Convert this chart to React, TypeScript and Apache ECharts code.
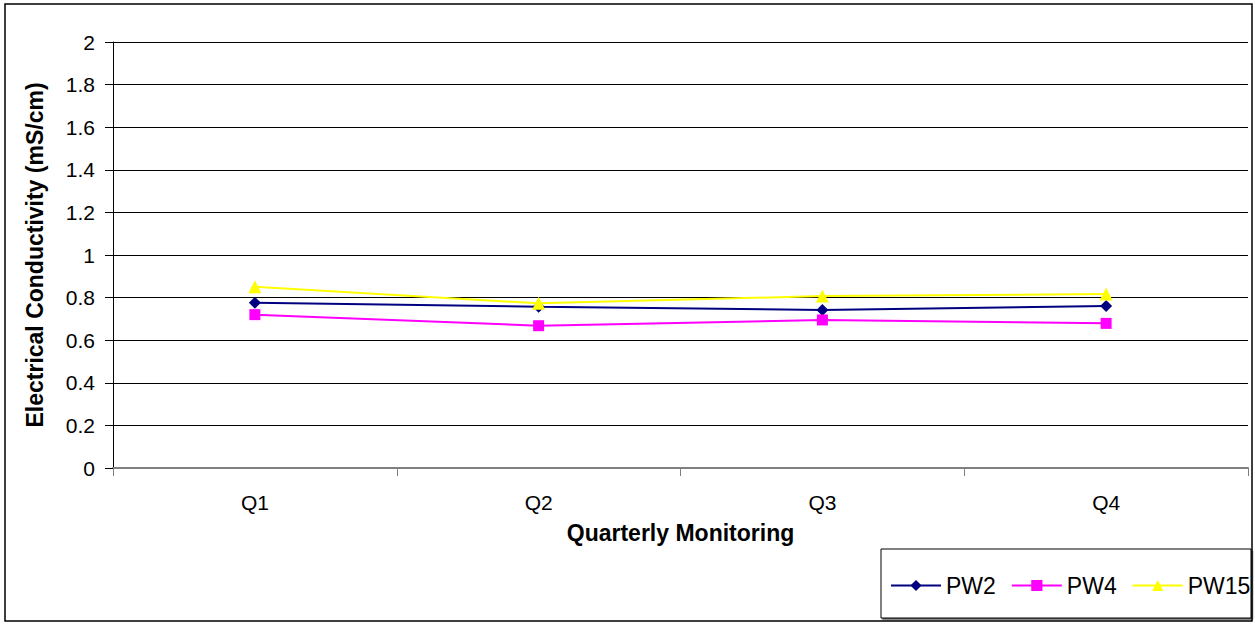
import React, { useEffect, useRef } from "react";
import * as echarts from "echarts";

const categories = ["Q1", "Q2", "Q3", "Q4"];
const pw2 = [0.776, 0.757, 0.742, 0.76];
const pw4 = [0.72, 0.668, 0.695, 0.679];
const pw15 = [0.851, 0.773, 0.807, 0.817];
const seriesNames = ["PW2", "PW4", "PW15"];
const yTitle = "Electrical Conductivity (mS/cm)";
const xTitle = "Quarterly Monitoring";

const FONT = "'Liberation Sans', Arial, sans-serif";

export default function App() {
  const ref = useRef<HTMLDivElement>(null);
  useEffect(() => {
    document.body.style.margin = "0";
    const chart = echarts.init(ref.current!, null, { renderer: "svg" });
    const mk = (name: string, data: number[], color: string, symbol: string, size: number) => ({
      name,
      type: "line",
      data,
      symbol,
      symbolSize: size,
      lineStyle: { color, width: 2 },
      itemStyle: { color },
      emphasis: { disabled: true },
    });
    chart.setOption({
      animation: false,
      textStyle: { fontFamily: FONT },
      grid: { left: 113, right: 7, top: 42, bottom: 156 },
      graphic: [
        {
          type: "rect",
          shape: { x: 5, y: 4, width: 1247, height: 617 },
          style: { fill: "none", stroke: "#000", lineWidth: 1.5 },
          silent: true,
        },
        {
          type: "rect",
          shape: { x: 881, y: 549, width: 370, height: 69 },
          style: {
            fill: "#fff",
            stroke: "#000",
            lineWidth: 1,
            shadowColor: "rgba(0,0,0,0.6)",
            shadowOffsetX: 1.5,
            shadowOffsetY: 1.5,
            shadowBlur: 0,
          },
          silent: true,
          z: -1,
        },
      ],
      legend: {
        data: seriesNames,
        left: 890,
        top: 574,
        padding: 0,
        itemWidth: 50,
        itemHeight: 14,
        itemGap: 15,
        textStyle: { fontSize: 23, color: "#000", fontFamily: FONT },
        zlevel: 1,
      },
      xAxis: {
        type: "category",
        data: categories,
        boundaryGap: true,
        name: xTitle,
        nameLocation: "middle",
        nameGap: 53,
        nameTextStyle: { fontSize: 23, fontWeight: "bold", color: "#000" },
        axisLine: { lineStyle: { color: "#808080", width: 2 } },
        axisTick: { show: true, length: 8, lineStyle: { color: "#808080" } },
        axisLabel: { fontSize: 21, color: "#000", margin: 24 },
        splitLine: { show: false },
      },
      yAxis: {
        type: "value",
        min: 0,
        max: 2,
        interval: 0.2,
        name: yTitle,
        nameLocation: "middle",
        nameGap: 67,
        nameTextStyle: { fontSize: 23, fontWeight: "bold", color: "#000" },
        axisLine: { show: true, lineStyle: { color: "#000", width: 1 } },
        axisTick: { show: true, length: 8, lineStyle: { color: "#000" } },
        axisLabel: {
          fontSize: 21,
          color: "#000",
          margin: 18,
          formatter: (v: number) => String(Math.round(v * 10) / 10),
        },
        splitLine: { show: true, lineStyle: { color: "#000", width: 1 } },
      },
      series: [
        mk("PW2", pw2, "#000080", "diamond", 12),
        mk("PW4", pw4, "#FF00FF", "rect", 11),
        mk("PW15", pw15, "#FFFF00", "triangle", 13),
      ],
    });
    return () => chart.dispose();
  }, []);
  return <div ref={ref} style={{ width: 1255, height: 624 }} />;
}
